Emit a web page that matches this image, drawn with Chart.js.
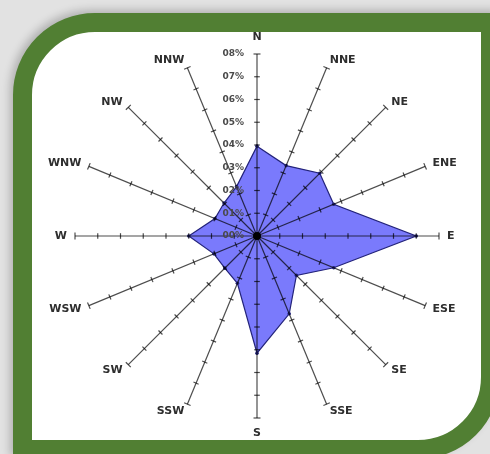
<!DOCTYPE html>
<html>
<head>
<meta charset="utf-8">
<script src="https://cdn.jsdelivr.net/npm/chart.js@4.4.1/dist/chart.umd.min.js"></script>
<style>
html,body{margin:0;padding:0;width:490px;height:454px;overflow:hidden;background:#e2e2e2;}
#frame{position:absolute;left:13px;top:13px;width:449px;height:408px;border:19px solid #517f33;border-radius:82px 0 82px 0;background:#fff;box-shadow:-3px -3px 9px rgba(0,0,0,0.22);}
#c{position:absolute;left:37px;top:16px;}
</style>
</head>
<body>
<div id="frame"></div>
<canvas id="c" width="440" height="440"></canvas>
<script>
// ---- data ----
const directions = ["N","NNE","NE","ENE","E","ESE","SE","SSE","S","SSW","SW","WSW","W","WNW","NW","NNW"];
const frequency = [3.95, 3.35, 3.9, 3.65, 7.0, 3.65, 2.45, 3.7, 5.15, 2.25, 2.0, 2.05, 3.0, 2.0, 2.05, 2.35];
const tickValues = [0, 1, 2, 3, 4, 5, 6, 7, 8];
const tickLabels = ["00%", "01%", "02%", "03%", "04%", "05%", "06%", "07%", "08%"];

// ---- layout / style ----
const AXIS_MAX = 8;
const AXIS_RADIUS_PX = 182;
const HALF = 220;
const SCALE_MAX = AXIS_MAX * HALF / AXIS_RADIUS_PX;

const windRose = {
  id: 'windRose',
  afterDatasetsDraw(chart) {
    const s = chart.scales.r;
    const ctx = chart.ctx;
    ctx.save();
    // axes with tick marks
    ctx.strokeStyle = 'rgba(0,0,0,0.7)';
    ctx.lineWidth = 1.2;
    const rEnd = s.getDistanceFromCenterForValue(AXIS_MAX);
    directions.forEach((d, i) => {
      const p = s.getPointPosition(i, rEnd);
      ctx.beginPath();
      ctx.moveTo(s.xCenter, s.yCenter);
      ctx.lineTo(p.x, p.y);
      ctx.stroke();
      const a = s.getIndexAngle(i) - Math.PI / 2;
      const nx = -Math.sin(a), ny = Math.cos(a);
      tickValues.forEach(v => {
        if (v === 0) return;
        const q = s.getPointPosition(i, s.getDistanceFromCenterForValue(v));
        const h = v === AXIS_MAX ? 3.5 : 2.8;
        ctx.beginPath();
        ctx.moveTo(q.x - nx * h, q.y - ny * h);
        ctx.lineTo(q.x + nx * h, q.y + ny * h);
        ctx.stroke();
      });
    });
    // centre hub
    ctx.fillStyle = '#000';
    ctx.beginPath();
    ctx.arc(s.xCenter, s.yCenter, 4, 0, Math.PI * 2);
    ctx.fill();
    // tick labels along N axis
    ctx.font = 'bold 9px "DejaVu Sans"';
    ctx.fillStyle = '#4a4a4a';
    ctx.textAlign = 'right';
    ctx.textBaseline = 'middle';
    tickValues.forEach((v, k) => {
      const q = s.getPointPosition(0, s.getDistanceFromCenterForValue(v));
      ctx.fillText(tickLabels[k], q.x - 13, q.y);
    });
    // direction labels
    ctx.font = 'bold 11px "DejaVu Sans"';
    ctx.fillStyle = '#2e2e2e';
    directions.forEach((d, i) => {
      const deg = s.getIndexAngle(i) * 180 / Math.PI;
      let align = 'left', base = 'middle', r = 190;
      if (deg < 1 || deg > 359) { align = 'center'; base = 'bottom'; r = 193; }
      else if (Math.abs(deg - 180) < 1) { align = 'center'; base = 'top'; r = 192; }
      else if (deg > 180) { align = 'right'; }
      const p = s.getPointPosition(i, r);
      ctx.textAlign = align;
      ctx.textBaseline = base;
      ctx.fillText(d, p.x, p.y);
    });
    ctx.restore();
  }
};

new Chart(document.getElementById('c'), {
  type: 'radar',
  data: {
    labels: directions,
    datasets: [{
      data: frequency,
      backgroundColor: 'rgb(122,122,252)',
      borderColor: '#23237a',
      borderWidth: 1.2,
      pointRadius: 1.8,
      pointBackgroundColor: '#23237a',
      pointBorderWidth: 0,
      fill: true
    }]
  },
  options: {
    responsive: false,
    animation: false,
    layout: { padding: 0 },
    elements: { line: { tension: 0 } },
    plugins: { legend: { display: false }, tooltip: { enabled: false } },
    scales: {
      r: {
        min: 0,
        max: SCALE_MAX,
        grid: { display: false },
        angleLines: { display: false },
        ticks: { display: false },
        pointLabels: { display: false }
      }
    }
  },
  plugins: [windRose]
});
</script>
</body>
</html>
